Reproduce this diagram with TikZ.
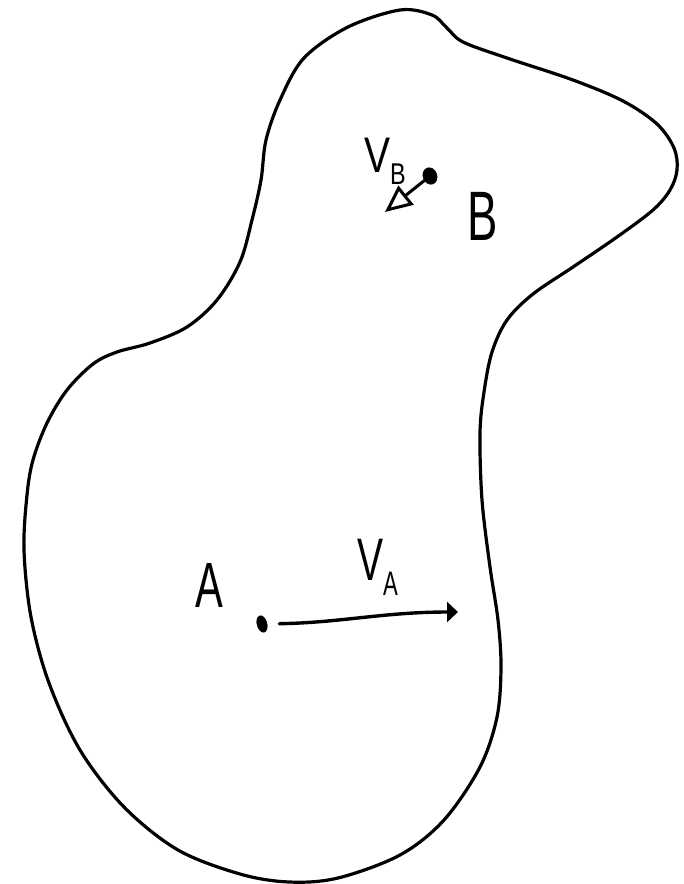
\documentclass[tikz,border=0pt]{standalone}
\usepackage{fontspec}
\setmainfont{Liberation Sans}
\usetikzlibrary{arrows.meta,shapes.geometric}

\begin{document}
\begin{tikzpicture}[x=1pt, y=-1pt,
  rim/.style={line width=3.2pt, line join=round},
  dot/.style={draw, fill=black, ellipse, inner sep=0pt},
  lbl/.style={font=\fontsize{64}{64}\selectfont, xscale=0.65, anchor=base west, inner sep=0pt},
  vec/.style={line width=3.4pt, line cap=round}]
\useasboundingbox (0,0) rectangle (684,884);

% outline of the body
\draw[rim] plot[smooth cycle, tension=0.55] coordinates {
  (400,10) (432,15) (447,28) (463,42) (507,58) (573,80) (623,101) (657,124)
  (674,148) (677,170) (670,190) (653,210) (617,237) (573,267) (533,294)
  (507,320) (492,352) (484,392) (480,433)
  (482,500) (490,567) (498,620) (501,667) (497,717) (480,767) (444,820)
  (400,855) (338,878) (289,882) (240,874) (178,850) (124,807) (80,750)
  (49,683) (31,617) (24,550) (27,495) (33,460) (47,423) (67,390) (93,364)
  (117,352) (150,343) (187,327) (217,300) (240,262) (252,220) (261,180)
  (266,140) (280,100) (304,58) (348,27)};

% point A and its velocity
\node[dot, minimum width=10pt, minimum height=17pt, rotate=15] (ptA) at (262,624) {};
\coordinate (tipA) at (458,612);
\draw[vec, -{Triangle[length=11pt,width=20pt]}, shorten <=12pt] (ptA) to[out=0, in=180] (tipA);
\node[lbl] (labA) at (195,607) {A};
\node[lbl, font=\fontsize{60}{60}\selectfont] (labVA) at (357,580) {V\raisebox{-15pt}{\fontsize{34}{34}\selectfont A}};

% point B and its velocity
\node[dot, minimum width=14pt, minimum height=17pt, rotate=20] (ptB) at (430,176) {};
\coordinate (tipB) at (385,212);
\draw[vec, line width=3pt, -{Triangle[open,length=27pt,width=24pt]}] (ptB) -- (tipB);
\node[lbl, font=\fontsize{50}{50}\selectfont, xscale=1.2] (labVB) at (364,172) {V\raisebox{-12pt}{\fontsize{30}{30}\selectfont B}};
\node[lbl, font=\fontsize{70}{70}\selectfont] (labB) at (467,240) {B};
\end{tikzpicture}
\end{document}
